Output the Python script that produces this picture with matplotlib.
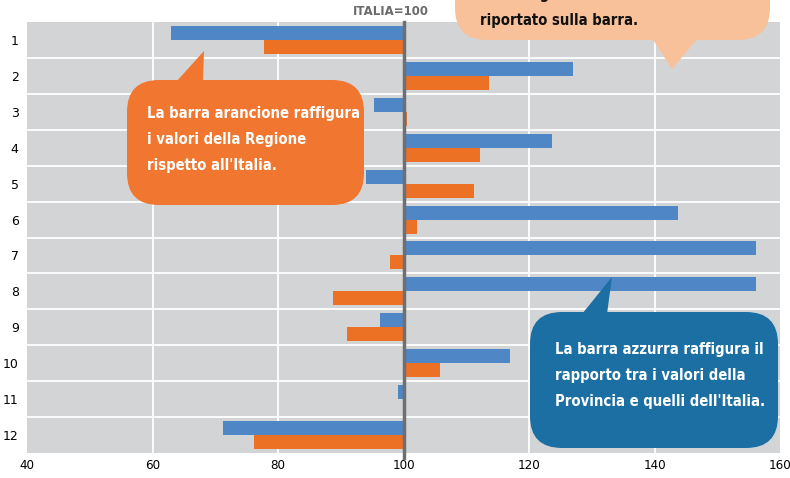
import numpy as np
import matplotlib
matplotlib.use("Agg")
import matplotlib.pyplot as plt
from matplotlib.patches import FancyBboxPatch, Polygon

categories = ['1', '2', '3', '4', '5', '6', '7', '8', '9', '10', '11', '12']
provincia = [62.9, 127.0, 95.3, 123.7, 94.1, 143.8, 156.1, 156.1, 96.2, 117.0, 99.2, 71.2]
regione = [77.8, 113.6, 100.6, 112.2, 111.2, 102.2, 97.8, 88.8, 91.0, 105.8, 100.0, 76.2]
xticks = [40, 60, 80, 100, 120, 140, 160]
base = 100

blue = '#4f86c6'
orange = '#ec7125'
W, H = 790, 478

fig = plt.figure(figsize=(W / 100, H / 100), dpi=100)
ax = fig.add_axes([27 / W, 1 - 453 / H, 753 / W, 431 / H])
ax.set_facecolor('#d3d4d6')

y = np.arange(len(categories))
bh = 0.39
ax.barh(y - bh / 2, np.array(provincia) - base, left=base, height=bh, color=blue)
ax.barh(y + bh / 2, np.array(regione) - base, left=base, height=bh, color=orange)

ax.set_xlim(40, 160)
ax.set_ylim(len(categories) - 0.5, -0.5)
ax.set_xticks(xticks)
ax.set_xticklabels([str(v) for v in xticks], fontstretch='condensed', fontsize=9.5)
ax.set_yticks(y)
ax.set_yticklabels(categories, fontsize=9)
ax.tick_params(length=0)
ax.tick_params(axis='x', pad=4)
ax.tick_params(axis='y', pad=6)
for s in ax.spines.values():
    s.set_visible(False)
for v in xticks[1:-1]:
    if v != base:
        ax.axvline(v, color='white', lw=1.3, zorder=0.5)
for b in np.arange(0.5, len(categories) - 1, 1):
    ax.axhline(b, color='white', lw=1.3, zorder=0.5)
ax.axvline(base, color='#6e6f72', lw=2.5, ymin=-0.012, ymax=1.0, clip_on=False, zorder=3)
ax.text(98, -0.6, 'ITALIA=100', ha='center', va='bottom', fontsize=8.5,
        fontweight='bold', color='#6b6b6b', transform=ax.transData)
ax.set_axisbelow(True)


def px(x, yy):
    return (x / W, 1 - yy / H)


def callout(x0, y0, x1, y1, tail, color, r=32):
    (ax0, ay0), (ax1, ay1) = px(x0, y1), px(x1, y0)
    box = FancyBboxPatch((ax0, ay0), ax1 - ax0, ay1 - ay0,
                         boxstyle='round,pad=0,rounding_size=%f' % (r / W),
                         transform=fig.transFigure, facecolor=color,
                         edgecolor='none', zorder=10, mutation_aspect=W / H)
    fig.patches.append(box)
    tri = Polygon([px(*p) for p in tail], closed=True, transform=fig.transFigure,
                  facecolor=color, edgecolor='none', zorder=10)
    fig.patches.append(tri)


kw = dict(ha='left', va='top', fontsize=10.6, fontweight='bold', fontstretch='condensed',
          family=['DejaVu Sans'], linespacing=1.9, zorder=11)

# orange callout
callout(127, 80, 364, 205, [(176, 82), (203, 82), (204, 51)], '#f1762f')
fig.text(*px(147, 106), "La barra arancione raffigura\ni valori della Regione\nrispetto all'Italia.",
         color='white', **kw)

# blue callout
callout(530, 312, 778, 448, [(582, 314), (607, 314), (612, 277)], '#1b6fa3')
fig.text(*px(555, 342), "La barra azzurra raffigura il\nrapporto tra i valori della\nProvincia e quelli dell'Italia.",
         color='white', **kw)

# peach callout (cut at top)
callout(455, -60, 770, 40, [(652, 38), (698, 38), (672, 69)], '#f9c19a')
fig.text(*px(480, -13), "dell'istogramma tale valore viene\nriportato sulla barra.",
         color='#111111', **kw)

fig.savefig('out.png', dpi=100)
